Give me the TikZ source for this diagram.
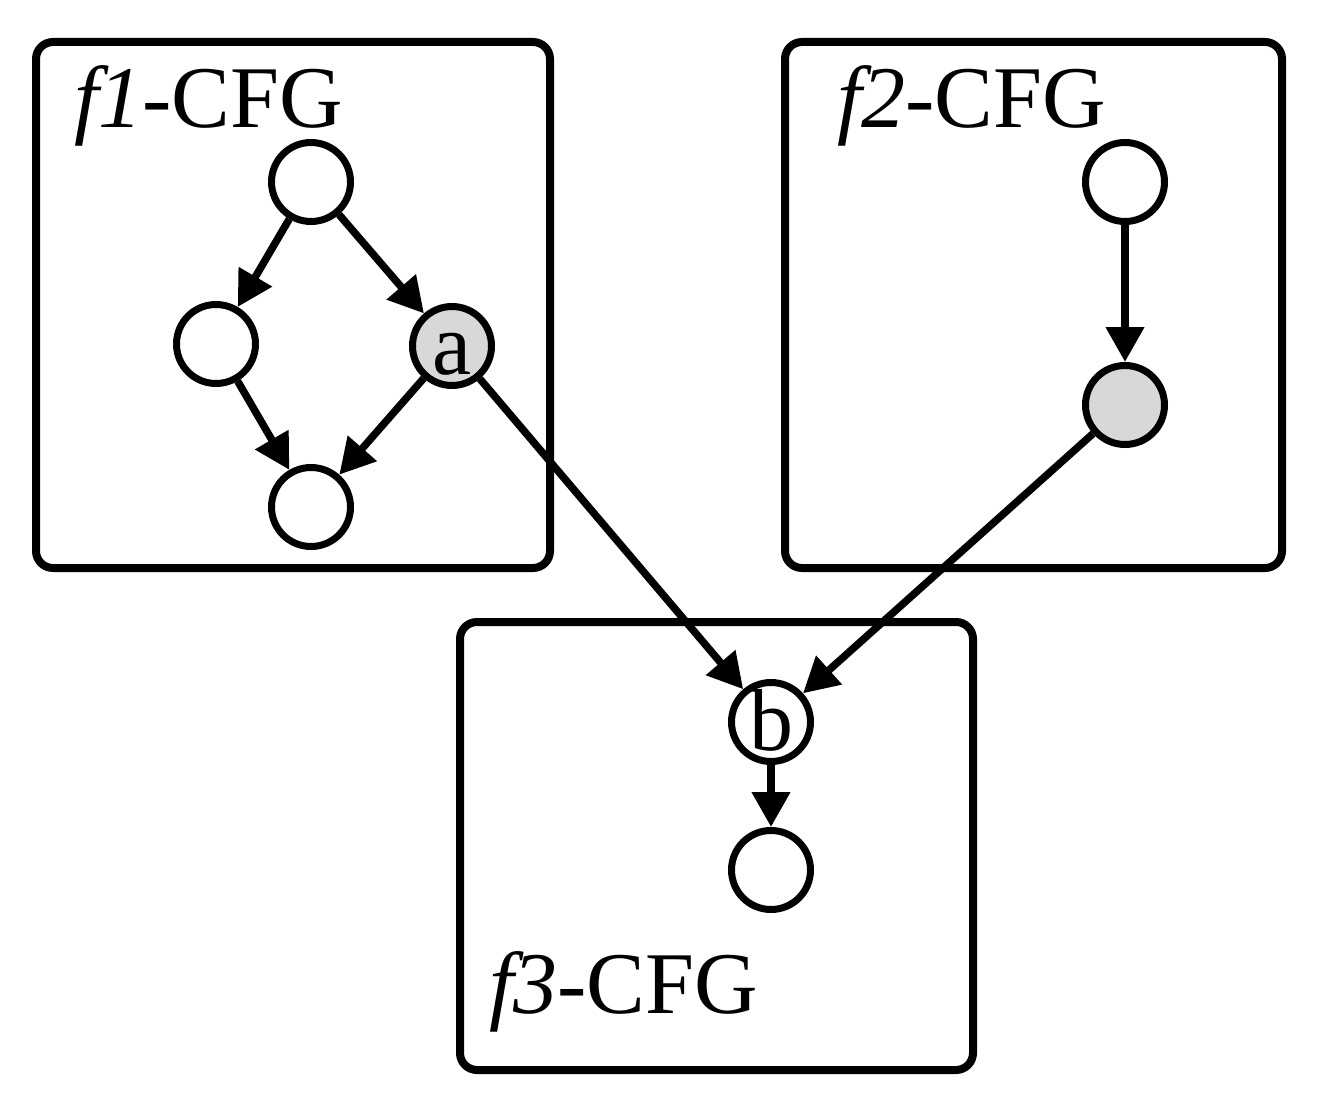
\documentclass[tikz,border=0pt]{standalone}
\usepackage{fontspec}
\setmainfont{Liberation Serif}
\usetikzlibrary{arrows.meta}
\definecolor{nodegray}{RGB}{216,216,216}
\begin{document}
\begin{tikzpicture}[x=1pt,y=-1pt,
  cfgbox/.style={draw,line width=8pt,rounded corners=17pt},
  cnode/.style={circle,draw,line width=7pt,fill=white,minimum size=79pt,inner sep=0pt,
    font=\fontsize{88}{92}\selectfont,text height=56pt,text depth=0pt},
  hot/.style={fill=nodegray},
  lbl/.style={anchor=base west,inner sep=0pt,font=\fontsize{88}{92}\selectfont},
  edge/.style={line width=7.5pt,-{Triangle[length=35pt,width=37pt]}}]
\useasboundingbox (0,0) rectangle (1318,1094);
\draw[cfgbox] (36,42) rectangle (550,568);
\draw[cfgbox] (785,42) rectangle (1282,568);
\draw[cfgbox] (460,622) rectangle (973,1070);
\node[lbl] (l1) at (74,128) {\textit{f1}-CFG};
\node[lbl] (l2) at (837,128) {\textit{f2}-CFG};
\node[lbl] (l3) at (489,1013) {\textit{f3}-CFG};
\node[cnode] (t1) at (311,182) {};
\node[cnode] (m1) at (216,344) {};
\node[cnode,hot] (a) at (452,346) {a};
\node[cnode] (u1) at (311,507) {};
\node[cnode] (t2) at (1125,182) {};
\node[cnode,hot] (g2) at (1125,405) {};
\node[cnode] (b) at (771,722) {b};
\node[cnode] (u3) at (771,870) {};
\draw[edge] (t1) -- (m1);
\draw[edge] (t1) -- (a);
\draw[edge] (m1) -- (u1);
\draw[edge] (a) -- (u1);
\draw[edge] (a) -- (b);
\draw[edge] (t2) -- (g2);
\draw[edge] (g2) -- (b);
\draw[edge] (b) -- (u3);
\end{tikzpicture}
\end{document}
